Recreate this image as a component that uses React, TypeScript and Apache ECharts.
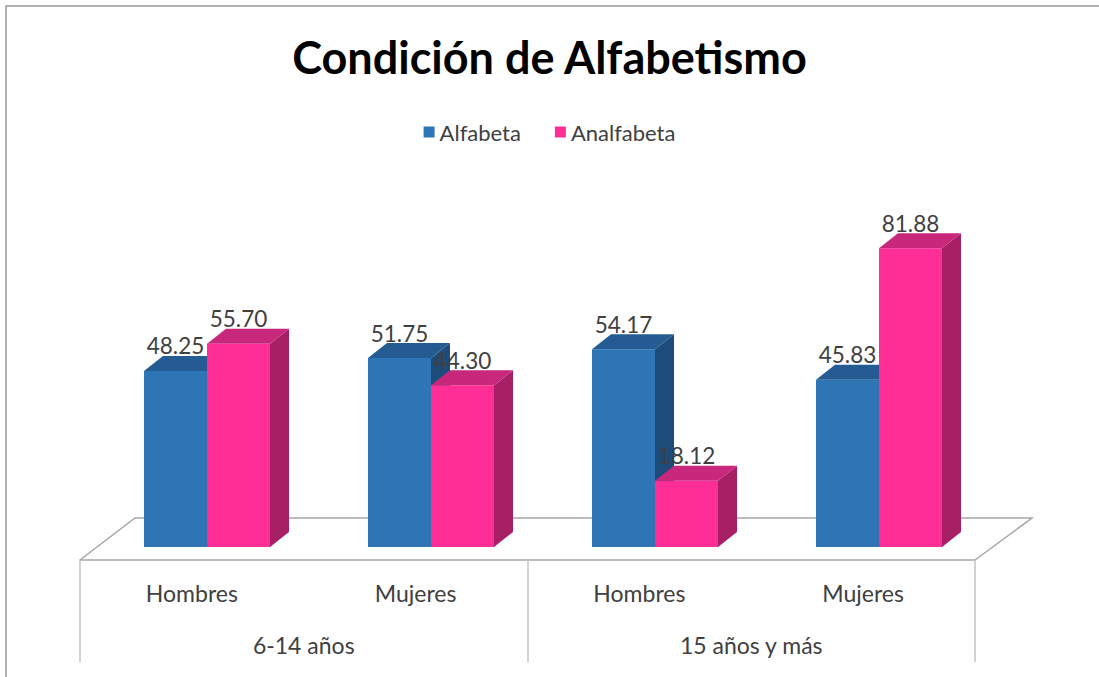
import React, { useEffect, useRef } from "react";
import * as echarts from "echarts";

const title = "Condición de Alfabetismo";
const seriesNames = ["Alfabeta", "Analfabeta"];
const categories = ["Hombres", "Mujeres", "Hombres", "Mujeres"];
const groups = ["6-14 años", "15 años y más"];
const alfabeta = [48.25, 51.75, 54.17, 45.83];
const analfabeta = [55.7, 44.3, 18.12, 81.88];

const FONT = "Lato, 'Noto Sans', sans-serif";
const FRONT = ["#2E75B6", "#FF2E96"];
const TOP = ["#235B92", "#C8287C"];
const SIDE = ["#1E4C7A", "#A81F66"];

// layout
const FLOOR_LEFT = 80;
const FLOOR_RIGHT = 975;
const FLOOR_FRONT_Y = 560;
const FLOOR_BACK_Y = 518;
const FLOOR_DX = 55;
const BAR_LEFT = 95;
const BAR_W_TOTAL = 896;
const BAR_BASE_Y = 547;
const BAR_TOP_Y = 182;
const DEPTH_DX = 19;
const DEPTH_DY = 15;
const BAR_FRAC = 63 / 224;
const W = 1099;
const H = 677;

export default function App() {
  const ref = useRef<HTMLDivElement>(null);
  useEffect(() => {
    if (!ref.current) return;
    const chart = echarts.init(ref.current, undefined, { renderer: "svg" });

    const makeRender = (si: number) => (params: any, api: any) => {
      const idx = api.value(0);
      const val = api.value(1);
      const base = api.coord([idx, 0]);
      const top = api.coord([idx, val]);
      const band = api.size([1, 0])[0];
      const w = band * BAR_FRAC;
      const x0 = si === 0 ? base[0] - w : base[0];
      const yt = top[1];
      const yb = base[1];
      return {
        type: "group",
        children: [
          {
            type: "rect",
            shape: { x: x0, y: yt, width: w, height: yb - yt },
            style: { fill: FRONT[si] },
          },
          {
            type: "polygon",
            shape: {
              points: [
                [x0 + w, yt],
                [x0 + w + DEPTH_DX, yt - DEPTH_DY],
                [x0 + w + DEPTH_DX, yb - DEPTH_DY],
                [x0 + w, yb],
              ],
            },
            style: { fill: SIDE[si] },
          },
          {
            type: "polygon",
            shape: {
              points: [
                [x0, yt],
                [x0 + DEPTH_DX, yt - DEPTH_DY],
                [x0 + w + DEPTH_DX, yt - DEPTH_DY],
                [x0 + w, yt],
              ],
            },
            style: { fill: TOP[si] },
          },
          {
            type: "text",
            z2: 100,
            x: x0 + w / 2,
            y: yt - 25,
            style: {
              text: val.toFixed(2),
              align: "center",
              verticalAlign: "middle",
              fontSize: 22.5,
              fontFamily: FONT,
              fill: "#404040",
            },
          },
        ],
      };
    };

    const option: any = {
      animation: false,
      backgroundColor: "#ffffff",
      title: {
        text: title,
        left: "center",
        top: 29,
        textStyle: { fontSize: 45, fontWeight: "bold", fontFamily: FONT, color: "#000" },
      },
      legend: {
        top: 116,
        left: "center",
        itemWidth: 11,
        itemHeight: 11,
        itemGap: 34,
        icon: "rect",
        textStyle: { fontSize: 22, fontFamily: FONT, color: "#404040" },
        data: seriesNames,
      },
      grid: [
        {
          left: BAR_LEFT,
          width: BAR_W_TOTAL,
          top: BAR_TOP_Y,
          height: BAR_BASE_Y - BAR_TOP_Y,
        },
        {
          left: FLOOR_LEFT,
          width: FLOOR_RIGHT - FLOOR_LEFT,
          top: BAR_TOP_Y,
          height: FLOOR_FRONT_Y - BAR_TOP_Y,
        },
      ],
      xAxis: [
        { type: "category", gridIndex: 0, data: categories, show: false },
        {
          type: "category",
          gridIndex: 1,
          data: categories,
          position: "bottom",
          axisLine: { show: false },
          axisTick: { show: false },
          axisLabel: { margin: 21, fontSize: 23, fontFamily: FONT, color: "#404040" },
        },
        {
          type: "category",
          gridIndex: 1,
          data: groups,
          position: "bottom",
          axisLine: { show: true, lineStyle: { color: "#a6a6a6", width: 1.5 } },
          axisTick: { show: true, length: 102, lineStyle: { color: "#c4c4c4", width: 1.5 } },
          axisLabel: { margin: 73, fontSize: 23, fontFamily: FONT, color: "#404040" },
        },
      ],
      yAxis: [
        { type: "value", gridIndex: 0, min: 0, max: 100, show: false },
        { type: "value", gridIndex: 1, min: 0, max: 100, show: false },
      ],
      graphic: [
        {
          type: "rect",
          shape: { x: 6, y: 6, width: W + 20, height: H + 20 },
          style: { fill: "none", stroke: "#9a9a9a", lineWidth: 1.5 },
          silent: true,
        },
        {
          type: "polyline",
          z: -1,
          shape: {
            points: [
              [FLOOR_LEFT, FLOOR_FRONT_Y],
              [FLOOR_LEFT + FLOOR_DX, FLOOR_BACK_Y],
              [FLOOR_RIGHT + FLOOR_DX + 2, FLOOR_BACK_Y],
              [FLOOR_RIGHT, FLOOR_FRONT_Y],
            ],
          },
          style: { fill: "none", stroke: "#a6a6a6", lineWidth: 1.5 },
          silent: true,
        },
      ],
      series: [
        {
          name: seriesNames[0],
          type: "custom",
          xAxisIndex: 0,
          yAxisIndex: 0,
          itemStyle: { color: FRONT[0] },
          renderItem: makeRender(0),
          data: alfabeta.map((v, i) => [i, v]),
          z: 3,
        },
        {
          name: seriesNames[1],
          type: "custom",
          xAxisIndex: 0,
          yAxisIndex: 0,
          itemStyle: { color: FRONT[1] },
          renderItem: makeRender(1),
          data: analfabeta.map((v, i) => [i, v]),
          z: 4,
        },
      ],
    };
    chart.setOption(option);
    return () => chart.dispose();
  }, []);
  return (
    <div
      ref={ref}
      style={{ position: "absolute", left: 0, top: 0, width: W, height: H }}
    />
  );
}
